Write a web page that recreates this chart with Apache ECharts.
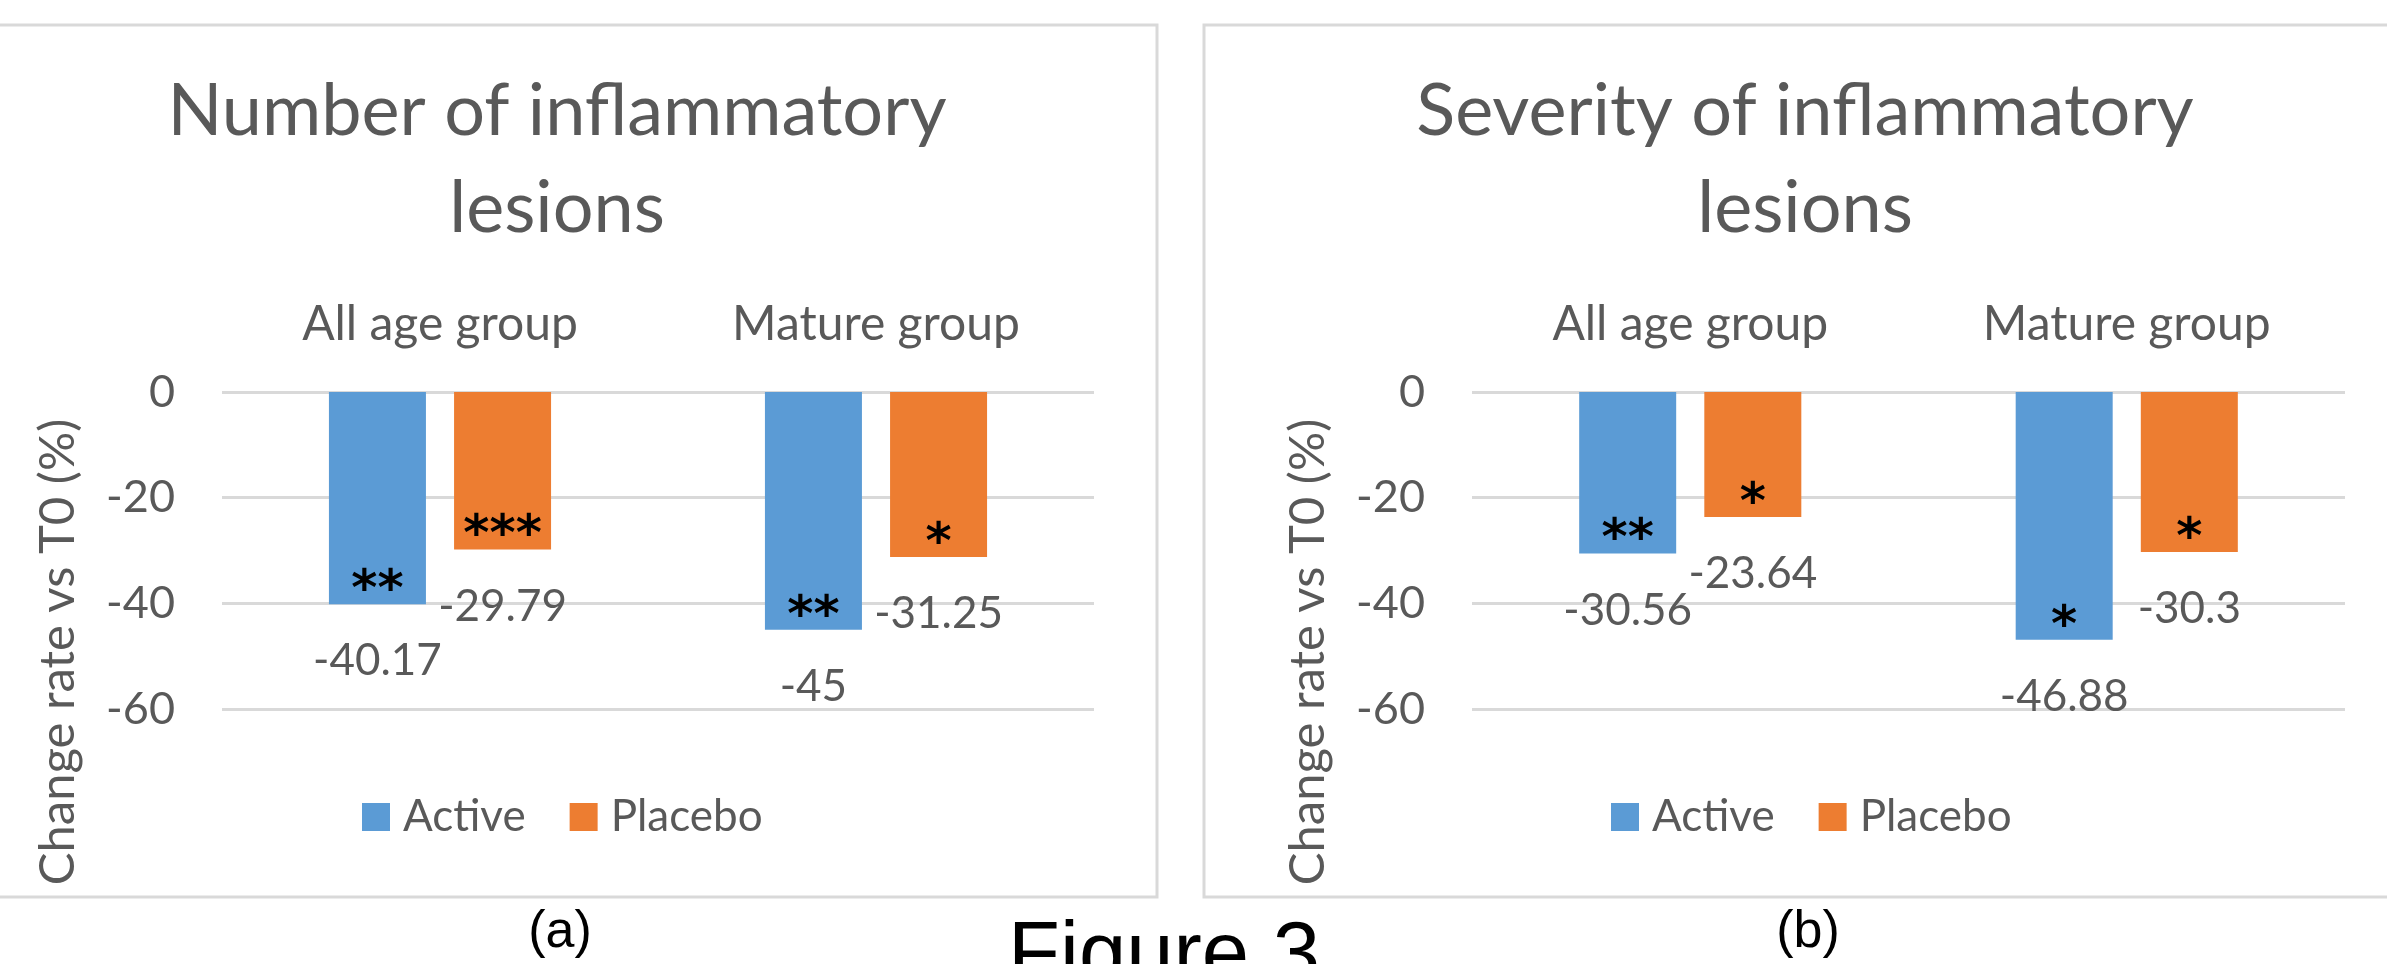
<!DOCTYPE html>
<html><head><meta charset="utf-8">
<script src="https://cdn.jsdelivr.net/npm/echarts@6/dist/echarts.min.js"></script>
<style>html,body{margin:0;padding:0;background:#fff}#c{width:2387px;height:964px}</style>
</head><body><div id="c"></div>
<script>
// ---- data ----
const categories = ['All age group', 'Mature group'];
const seriesNames = ['Active', 'Placebo'];
const numberActive = [-40.17, -45];
const numberPlacebo = [-29.79, -31.25];
const severityActive = [-30.56, -46.88];
const severityPlacebo = [-23.64, -30.3];
const numberActiveSig = ['**', '**'];
const numberPlaceboSig = ['***', '*'];
const severityActiveSig = ['**', '*'];
const severityPlaceboSig = ['*', '*'];
const yMin = -60, yMax = 0, yStep = 20;
const panelTitles = [['Number of inflammatory', 'lesions'], ['Severity of inflammatory', 'lesions']];
const yAxisTitle = 'Change rate vs T0 (%)';
const panelLabels = ['(a)', '(b)'];
const figureLabel = 'Figure 3';

// ---- style ----
const FONT = "Lato, 'Open Sans', sans-serif";
const GRAY = '#595959';
const BLUE = '#5B9BD5';
const ORANGE = '#ED7D31';
const GRID = '#D9D9D9';

const chart = echarts.init(document.getElementById('c'), null, {renderer: 'canvas'});

const grids = [
  {left: 222, top: 392, width: 872, height: 317},
  {left: 1472, top: 392, width: 873, height: 317}
];

function visibleX(g) {
  return {gridIndex: g, type: 'category', data: categories, position: 'top',
    axisLine: {show: false}, axisTick: {show: false},
    axisLabel: {margin: 43, fontSize: 48, fontFamily: FONT, color: GRAY}};
}
function hiddenX(g) {
  return {gridIndex: g, type: 'category', data: categories, position: 'top', show: false};
}
function yAx(g) {
  return {gridIndex: g, type: 'value', min: yMin, max: yMax, interval: yStep,
    axisLine: {show: false}, axisTick: {show: false},
    axisLabel: {margin: 47, fontSize: 45, fontFamily: FONT, color: GRAY},
    splitLine: {lineStyle: {color: GRID, width: 3}}};
}
function bar(name, data, xi, yi, color) {
  return {type: 'bar', name, data, xAxisIndex: xi, yAxisIndex: yi, barWidth: 97, barGap: '29%',
    itemStyle: {color},
    label: {show: true, position: 'bottom', distance: 35, fontSize: 44, fontFamily: FONT, color: GRAY}};
}
function sig(name, data, marks, xi, yi) {
  return {type: 'bar', name, data, xAxisIndex: xi, yAxisIndex: yi, barWidth: 97, barGap: '29%',
    itemStyle: {color: 'rgba(0,0,0,0)'}, silent: true, z: 4,
    label: {show: true, position: 'insideBottom', distance: -13, fontSize: 50, fontWeight: 'bold',
      fontFamily: "'DejaVu Sans', sans-serif", color: '#000',
      formatter: p => marks[p.dataIndex]}};
}
function txt(text, x, y, size, family, color, rot) {
  return {type: 'text', x, y, rotation: rot || 0, silent: true,
    style: {text, fontSize: size, fontFamily: family, fill: color,
      align: 'center', verticalAlign: 'middle', textAlign: 'center', textVerticalAlign: 'middle'}};
}

const titleCx = [557, 1805];
const yTitleCx = [58, 1308];
const graphics = [
  {type: 'rect', shape: {x: -43, y: 25, width: 1200, height: 872}, style: {fill: 'none', stroke: GRID, lineWidth: 3}, silent: true},
  {type: 'rect', shape: {x: 1204, y: 25, width: 1200, height: 872}, style: {fill: 'none', stroke: GRID, lineWidth: 3}, silent: true}
];
for (let i = 0; i < 2; i++) {
  graphics.push(txt(panelTitles[i][0], titleCx[i], 112, 72, FONT, GRAY));
  graphics.push(txt(panelTitles[i][1], titleCx[i], 209, 72, FONT, GRAY));
  graphics.push(txt(yAxisTitle, yTitleCx[i], 652, 49, FONT, GRAY, Math.PI / 2));
}
graphics.push(txt(panelLabels[0], 560, 933, 52, "'Liberation Sans', Arial, sans-serif", '#000'));
graphics.push(txt(panelLabels[1], 1808, 933, 52, "'Liberation Sans', Arial, sans-serif", '#000'));
graphics.push(txt(figureLabel, 1164, 958, 85, "'Liberation Sans', Arial, sans-serif", '#000'));

const legendBase = {orient: 'horizontal', top: 795, padding: 0, itemWidth: 28, itemHeight: 28, itemGap: 44,
  icon: 'rect', data: seriesNames, selectedMode: false,
  textStyle: {fontSize: 44, fontFamily: FONT, color: GRAY, padding: [0, 0, 0, 8]}};

chart.setOption({
  animation: false,
  backgroundColor: '#fff',
  grid: grids,
  xAxis: [visibleX(0), hiddenX(0), visibleX(1), hiddenX(1)],
  yAxis: [yAx(0), yAx(1)],
  legend: [Object.assign({}, legendBase, {left: 362}), Object.assign({}, legendBase, {left: 1611})],
  series: [
    bar(seriesNames[0], numberActive, 0, 0, BLUE),
    bar(seriesNames[1], numberPlacebo, 0, 0, ORANGE),
    sig('ActiveSig1', numberActive, numberActiveSig, 1, 0),
    sig('PlaceboSig1', numberPlacebo, numberPlaceboSig, 1, 0),
    bar(seriesNames[0], severityActive, 2, 1, BLUE),
    bar(seriesNames[1], severityPlacebo, 2, 1, ORANGE),
    sig('ActiveSig2', severityActive, severityActiveSig, 3, 1),
    sig('PlaceboSig2', severityPlacebo, severityPlaceboSig, 3, 1)
  ],
  graphic: graphics
});
</script></body></html>
